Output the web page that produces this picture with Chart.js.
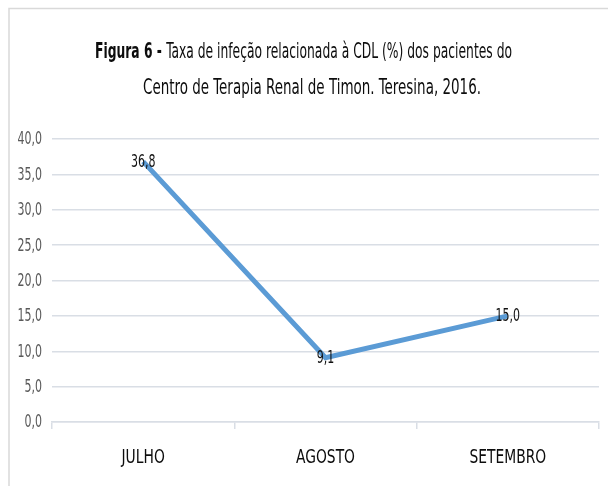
<!DOCTYPE html>
<html>
<head>
<meta charset="utf-8">
<script src="https://cdn.jsdelivr.net/npm/chart.js@4"></script>
<style>
  html, body { margin: 0; padding: 0; background: #fff; }
  #wrap { width: 608px; height: 486px; }
</style>
</head>
<body>
<div id="wrap"><canvas id="myChart" width="608" height="486"></canvas></div>
<script>
const months = ['JULHO', 'AGOSTO', 'SETEMBRO'];
const taxa = [36.8, 9.1, 15.0];
const titleBold = 'Figura 6 - ';
const titleRest = 'Taxa de infeção relacionada à CDL (%) dos pacientes do';
const titleLine2 = 'Centro de Terapia Renal de Timon. Teresina, 2016.';

const FONT = '"Liberation Sans Narrow", "DejaVu Sans Condensed", sans-serif';
const fmt = v => Number(v).toFixed(1).replace('.', ',');

// text squeezed sideways (the source picture is condensed)
function squeezed(c, text, x, y, sx, align) {
    const w = c.measureText(text).width * sx;
    let left = x;
    if (align === 'center') left = x - w / 2;
    else if (align === 'right') left = x - w;
    c.save();
    c.translate(left, y);
    c.scale(sx, 1);
    c.textAlign = 'left';
    c.fillText(text, 0, 0);
    c.restore();
    return w;
}

const decor = {
    id: 'decor',
    beforeDraw(chart) {
        const c = chart.ctx;
        c.save();
        c.fillStyle = '#fff';
        c.fillRect(0, 0, chart.width, chart.height);
        c.strokeStyle = '#d9d9d9';
        c.lineWidth = 1.5;
        c.beginPath();
        c.moveTo(9, 486); c.lineTo(9, 8.5); c.lineTo(608, 8.5);
        c.stroke();

        // title
        c.fillStyle = '#0d0d0d';
        c.textBaseline = 'alphabetic';
        c.font = 'bold 22px ' + FONT;
        const wb = c.measureText(titleBold).width;
        c.font = '22px ' + FONT;
        const wr = c.measureText(titleRest).width;
        const sx = 417 / (wb + wr);
        let x = 303.5 - 417 / 2;
        c.font = 'bold 22px ' + FONT;
        x += squeezed(c, titleBold, x, 58, sx, 'left');
        c.font = '22px ' + FONT;
        squeezed(c, titleRest, x, 58, sx, 'left');
        const sx2 = 338 / c.measureText(titleLine2).width;
        squeezed(c, titleLine2, 312, 94, sx2, 'center');

        // x category labels
        const xs = chart.scales.x;
        c.font = '20px ' + FONT;
        c.textBaseline = 'middle';
        months.forEach((m, i) => {
            squeezed(c, m, xs.getPixelForValue(i), 458, 0.77, 'center');
        });

        // y tick labels
        const ys = chart.scales.y;
        c.font = '17px ' + FONT;
        c.fillStyle = '#595959';
        ys.ticks.forEach(t => {
            squeezed(c, fmt(t.value), 42, ys.getPixelForValue(t.value) + 1, 0.72, 'right');
        });
        c.restore();
    },
    afterDatasetsDraw(chart) {
        const c = chart.ctx;
        const meta = chart.getDatasetMeta(0);
        c.save();
        c.font = '17px ' + FONT;
        c.fillStyle = '#111';
        c.textBaseline = 'middle';
        meta.data.forEach((pt, i) => {
            squeezed(c, fmt(taxa[i]), pt.x, pt.y + 1, 0.72, 'center');
        });
        c.restore();
    }
};

const ctx = document.getElementById('myChart').getContext('2d');
new Chart(ctx, {
    type: 'line',
    data: {
        labels: months,
        datasets: [{
            data: taxa,
            borderColor: '#5b9bd5',
            borderWidth: 5,
            pointRadius: 0,
            fill: false,
            tension: 0
        }]
    },
    options: {
        responsive: false,
        animation: false,
        devicePixelRatio: 1,
        layout: { padding: { top: 139, right: 9, left: 0, bottom: 0 } },
        plugins: { legend: { display: false }, tooltip: { enabled: false } },
        scales: {
            x: {
                offset: true,
                grid: { offset: true, drawOnChartArea: false, drawTicks: true, tickLength: 7, color: '#d9dee5', lineWidth: 1.5 },
                border: { color: '#d9dee5', width: 1.5 },
                ticks: { display: false },
                afterFit(s) { s.height = 64; }
            },
            y: {
                min: 0, max: 40,
                ticks: { stepSize: 5, display: false },
                grid: { drawTicks: false, color: '#d9dee5', lineWidth: 1.5 },
                border: { display: false },
                afterFit(s) { s.width = 52; }
            }
        }
    },
    plugins: [decor]
});
</script>
</body>
</html>
